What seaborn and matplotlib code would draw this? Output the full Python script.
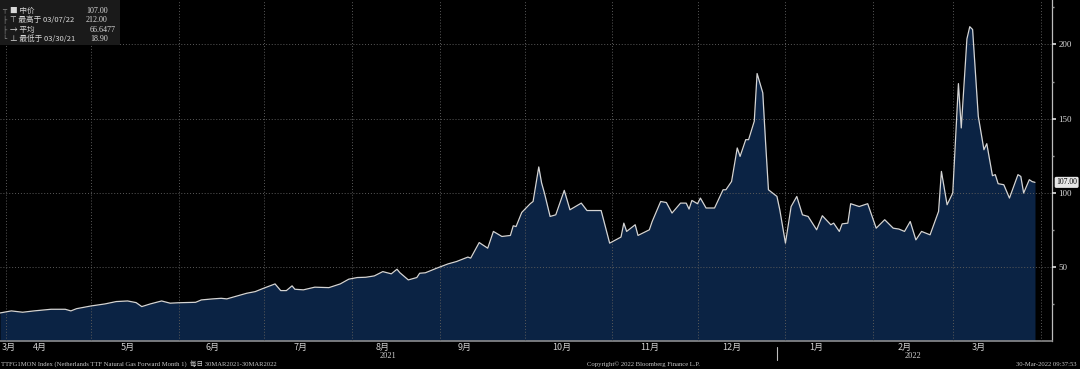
import matplotlib
matplotlib.use("Agg")
import matplotlib.pyplot as plt
import matplotlib.transforms as mtransforms
from matplotlib.patches import Rectangle
import pandas as pd
import seaborn as sns

# ----------------------------------------------------------------------------
# Data: TTF front-month (EUR/MWh)
# ----------------------------------------------------------------------------
dates = [
    "2021-03-30", "2021-04-03", "2021-04-07", "2021-04-11", "2021-04-17", "2021-04-22",
    "2021-04-24", "2021-04-26", "2021-05-01", "2021-05-06", "2021-05-10", "2021-05-14",
    "2021-05-17", "2021-05-19", "2021-05-22", "2021-05-26", "2021-05-29", "2021-06-01",
    "2021-06-07", "2021-06-09", "2021-06-13", "2021-06-16", "2021-06-18", "2021-06-23",
    "2021-06-25", "2021-06-28", "2021-07-01", "2021-07-05", "2021-07-07", "2021-07-09",
    "2021-07-11", "2021-07-12", "2021-07-15", "2021-07-19", "2021-07-24", "2021-07-28",
    "2021-07-31", "2021-08-03", "2021-08-06", "2021-08-09", "2021-08-12", "2021-08-15",
    "2021-08-17", "2021-08-18", "2021-08-21", "2021-08-24", "2021-08-25", "2021-08-27",
    "2021-08-31", "2021-09-04", "2021-09-07", "2021-09-11", "2021-09-12", "2021-09-15",
    "2021-09-18", "2021-09-20", "2021-09-23", "2021-09-26", "2021-09-27", "2021-09-28",
    "2021-09-30", "2021-10-03", "2021-10-04", "2021-10-06", "2021-10-07", "2021-10-08",
    "2021-10-10", "2021-10-12", "2021-10-15", "2021-10-17", "2021-10-21", "2021-10-23",
    "2021-10-28", "2021-10-31", "2021-11-04", "2021-11-05", "2021-11-06", "2021-11-09",
    "2021-11-10", "2021-11-14", "2021-11-15", "2021-11-18", "2021-11-20", "2021-11-22",
    "2021-11-25", "2021-11-27", "2021-11-28", "2021-11-29", "2021-12-01", "2021-12-02",
    "2021-12-04", "2021-12-07", "2021-12-10", "2021-12-11", "2021-12-13", "2021-12-15",
    "2021-12-16", "2021-12-18", "2021-12-19", "2021-12-21", "2021-12-22", "2021-12-24",
    "2021-12-25", "2021-12-26", "2021-12-29", "2021-12-30", "2022-01-01", "2022-01-03",
    "2022-01-05", "2022-01-07", "2022-01-09", "2022-01-12", "2022-01-14", "2022-01-17",
    "2022-01-18", "2022-01-20", "2022-01-21", "2022-01-23", "2022-01-24", "2022-01-27",
    "2022-01-30", "2022-02-02", "2022-02-05", "2022-02-08", "2022-02-10", "2022-02-12",
    "2022-02-14", "2022-02-16", "2022-02-18", "2022-02-21", "2022-02-24", "2022-02-25",
    "2022-02-27", "2022-03-01", "2022-03-03", "2022-03-04", "2022-03-06", "2022-03-07",
    "2022-03-08", "2022-03-10", "2022-03-12", "2022-03-13", "2022-03-15", "2022-03-16",
    "2022-03-17", "2022-03-19", "2022-03-21", "2022-03-24", "2022-03-25", "2022-03-26",
    "2022-03-28", "2022-03-29", "2022-03-30",
]
prices = [
    18.9, 20.3, 19.4, 20.3, 21.4, 21.4,
    20.3, 21.8, 23.6, 25.0, 26.6, 27.0,
    25.9, 23.2, 25.0, 27.0, 25.5, 25.8,
    26.1, 27.7, 28.4, 28.8, 28.4, 31.1,
    32.2, 33.3, 35.6, 38.5, 34.0, 34.0,
    37.2, 34.9, 34.5, 36.3, 36.0, 38.5,
    41.7, 42.8, 43.0, 43.9, 46.8, 45.3,
    48.4, 46.1, 41.2, 42.8, 45.7, 46.0,
    49.1, 52.0, 53.6, 56.6, 55.9, 66.4,
    62.6, 73.9, 70.5, 71.2, 77.7, 77.2,
    86.7, 92.6, 94.1, 117.4, 106.6, 99.8,
    84.0, 85.1, 101.6, 88.5, 93.0, 88.0,
    88.0, 66.0, 70.1, 79.5, 73.9, 78.4,
    71.2, 75.0, 80.6, 94.1, 93.4, 86.3,
    93.0, 93.0, 89.0, 94.8, 92.6, 96.4,
    89.7, 89.7, 102.0, 102.0, 107.6, 130.2,
    124.5, 135.8, 135.8, 148.2, 180.4, 167.4,
    133.6, 102.0, 97.5, 88.5, 66.0, 90.7,
    97.5, 85.1, 84.0, 75.0, 84.5, 78.4,
    79.5, 73.9, 79.0, 79.5, 92.6, 90.7,
    92.6, 76.1, 81.8, 76.1, 75.5, 73.9,
    80.6, 68.2, 73.9, 71.6, 87.4, 114.4,
    91.9, 99.8, 173.6, 143.7, 203.8, 212.0,
    210.1, 151.6, 129.0, 133.1, 111.5, 112.2,
    106.1, 105.4, 96.4, 112.2, 111.0, 99.8,
    108.8, 107.5, 107.0,
]

month_ticks = ["2021-04-01", "2021-05-01", "2021-06-01", "2021-07-01", "2021-08-01",
               "2021-09-01", "2021-10-01", "2021-11-01", "2021-12-01", "2022-01-01",
               "2022-02-01", "2022-03-01", "2022-04-01"]
label_dates = ["2021-04-02", "2021-04-13", "2021-05-14", "2021-06-13", "2021-07-14",
               "2021-08-12", "2021-09-10", "2021-10-14", "2021-11-14", "2021-12-13",
               "2022-01-12", "2022-02-12", "2022-03-10"]
month_labels = ["3月", "4月", "5月", "6月", "7月", "8月", "9月", "10月", "11月",
                "12月", "1月", "2月", "3月"]
year_labels = [("2021-08-14", "2021"), ("2022-02-15", "2022")]

last_price, hi_price, avg_price, lo_price = 107.00, 212.00, 66.6477, 18.90

df = pd.DataFrame({"date": pd.to_datetime(dates), "price": prices})

# ----------------------------------------------------------------------------
# Style: Bloomberg terminal look
# ----------------------------------------------------------------------------
sns.set_theme(style="dark", rc={
    "figure.facecolor": "black", "axes.facecolor": "black",
    "savefig.facecolor": "black", "text.color": "#d8d8d8",
    "xtick.color": "#d8d8d8", "ytick.color": "#d8d8d8",
})
plt.rcParams["font.family"] = ["Liberation Serif", "Noto Sans CJK SC", "DejaVu Sans"]
CJK = ["Noto Sans CJK SC", "DejaVu Sans"]

FILL = "#0b2344"
LINE = "#d4d4d4"
GRID = "#5a5a5a"

fig = plt.figure(figsize=(10.8, 3.69), dpi=100)
ax = fig.add_axes([0, 28 / 369, 1052 / 1080, 341 / 369])

ax.fill_between(df["date"], df["price"], 0, color=FILL, lw=0, zorder=1)
sns.lineplot(df, x="date", y="price", ax=ax, color=LINE, linewidth=0.9, zorder=3)

ax.set_xlim(pd.Timestamp("2021-03-30"), pd.Timestamp("2022-04-05"))
ax.set_ylim(0, 230)
ax.set(xlabel="", ylabel="")

# x axis: gridlines at month starts, labels mid-month
ax.set_xticks(pd.to_datetime(month_ticks))
ax.set_xticklabels([])
ax.set_xticks(pd.to_datetime(label_dates), minor=True)
ax.set_xticklabels(month_labels, minor=True, fontsize=6.5, family=CJK)
ax.tick_params(axis="x", which="major", length=2, width=1.2, direction="inout",
               color="#cfcfcf")
ax.tick_params(axis="x", which="minor", length=0, pad=1.5, colors="#d0d0d0")

# y axis on the right
ax.yaxis.tick_right()
ax.set_yticks([50, 100, 150, 200])
ax.set_yticklabels(["50", "100", "150", "200"], fontsize=6.5)
ax.set_yticks([25, 75, 125, 175, 225], minor=True)
ax.tick_params(axis="y", which="major", length=3, width=1.2, direction="out",
               pad=1.5, color="#e0e0e0")
ax.tick_params(axis="y", which="minor", length=1.5, width=1, direction="out",
               color="#9a9a9a", right=True)

# grid is drawn on top of the filled area, as on the terminal
ax.set_axisbelow(False)
ax.grid(True, which="major", color=GRID, linestyle=(0, (1, 2)), linewidth=0.7)
ax.grid(False, which="minor")
for side in ["top", "left"]:
    ax.spines[side].set_visible(False)
ax.spines["right"].set_color("#bdbdbd")
ax.spines["right"].set_linewidth(0.9)
ax.spines["bottom"].set_color("#8a8a8a")
ax.spines["bottom"].set_linewidth(1.2)

# last price tag on the right axis
blend = mtransforms.blended_transform_factory(ax.transAxes, ax.transData)
ax.text(1.004, last_price, f"{last_price:.2f}", transform=blend, fontsize=5.5,
        color="black", va="center", ha="left", clip_on=False,
        bbox=dict(boxstyle="round,pad=0.2", fc="#e6e6e6", ec="none"))

# year labels + separator under the axis
xt = ax.get_xaxis_transform()
for d, lab in year_labels:
    ax.text(pd.Timestamp(d), -0.045, lab, transform=xt, fontsize=6, ha="center",
            va="center", color="#d0d0d0", clip_on=False)
ax.plot([pd.Timestamp("2021-12-29")] * 2, [-0.018, -0.055], transform=xt,
        color="#bdbdbd", lw=0.8, clip_on=False)

# legend box (top-left)
fig.add_artist(Rectangle((0, 1 - 45 / 369), 120 / 1080, 45 / 369,
                         transform=fig.transFigure, fc="#1a1a1a", ec="none", zorder=5))
rows = [
    ("■ 中价", f"{last_price:.2f}", 86),
    ("⊤ 最高于 03/07/22", f"{hi_price:.2f}", 86),
    ("→ 平均", f"{avg_price:.4f}", 90),
    ("⊥ 最低于 03/30/21", f"{lo_price:.2f}", 90),
]
for i, (lab, val, vx) in enumerate(rows):
    y = 1 - (11 + i * 9.3) / 369
    fig.text(10 / 1080, y, lab, fontsize=5.5, family=CJK, color="#d8d8d8",
             va="center", zorder=6)
    fig.text(vx / 1080, y, val, fontsize=5.8, color="#d8d8d8", va="center", zorder=6)
    fig.text(2 / 1080, y, "┬" if i == 0 else ("└" if i == 3 else "├"), fontsize=5,
             family=["DejaVu Sans"], color="#8a8a8a", va="center", zorder=6)

# footer
fig.text(1 / 1080, 5 / 369,
         "TTFG1MON Index (Netherlands TTF Natural Gas Forward Month 1)  每日 30MAR2021-30MAR2022",
         fontsize=4.8, family=["Liberation Serif", "Noto Sans CJK SC"], color="#c8c8c8",
         va="center")
fig.text(587 / 1080, 5 / 369, "Copyright© 2022 Bloomberg Finance L.P.", fontsize=4.8,
         color="#c8c8c8", va="center")
fig.text(1076 / 1080, 5 / 369, "30-Mar-2022 09:37:53", fontsize=4.8, color="#c8c8c8",
         va="center", ha="right")

fig.savefig("out.png", dpi=100)
